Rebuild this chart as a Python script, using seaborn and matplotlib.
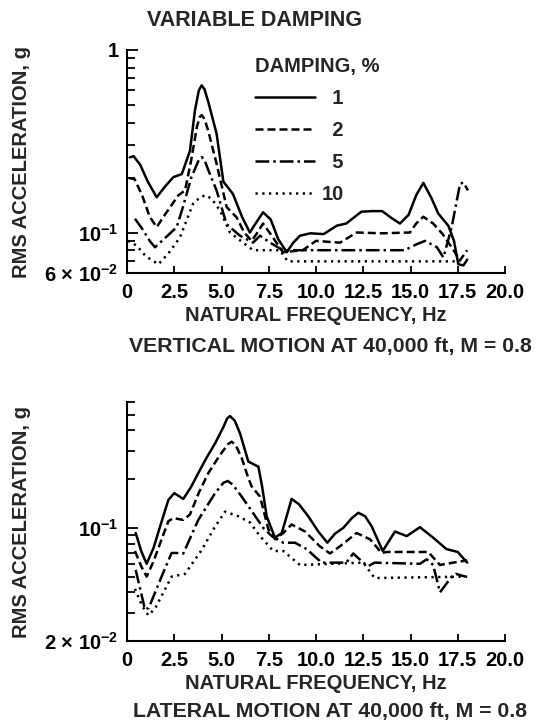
import numpy as np
import pandas as pd
import matplotlib
matplotlib.use('Agg')
import matplotlib.pyplot as plt
from matplotlib.lines import Line2D
from matplotlib.ticker import FixedLocator, NullFormatter
import seaborn as sns

# damping levels, %
damping = ['1', '2', '5', '10']

# vertical motion at 40,000 ft (top chart), frequency in Hz, rms acceleration in g
vert_f_1 = [0.15, 0.35, 0.7, 1.1, 1.57, 2.0, 2.45, 2.9, 3.33, 3.6, 3.8, 3.95, 4.1, 4.3, 4.74, 5.1,
            5.6, 6.1, 6.5, 6.8, 7.2, 7.6, 8.0, 8.45, 8.8, 9.15, 9.7, 10.4, 11.1, 11.6, 12.4, 13.0,
            13.5, 14.0, 14.44, 14.9, 15.3, 15.68, 16.1, 16.47, 17.0, 17.3, 17.53, 17.8, 18.0]
vert_g_1 = [0.258, 0.262, 0.235, 0.19, 0.156, 0.178, 0.201, 0.209, 0.28, 0.47, 0.6, 0.64, 0.61,
            0.52, 0.348, 0.19, 0.163, 0.121, 0.100, 0.112, 0.129, 0.118, 0.092, 0.078, 0.088, 0.096,
            0.099, 0.098, 0.109, 0.112, 0.130, 0.131, 0.131, 0.12, 0.112, 0.125, 0.16, 0.187, 0.155,
            0.127, 0.109, 0.09, 0.067, 0.066, 0.071]
vert_f_2 = [0.1, 0.4, 0.8, 1.2, 1.57, 2.0, 2.72, 3.07, 3.4, 3.7, 3.85, 3.95, 4.1, 4.3, 4.74, 5.27,
            5.8, 6.2, 6.6, 6.9, 7.2, 7.6, 8.25, 9.3, 10.0, 10.6, 11.27, 12.15, 13.5, 14.97, 15.3,
            15.68, 16.2, 16.7, 17.35, 17.6, 18.0]
vert_g_2 = [0.199, 0.196, 0.16, 0.122, 0.107, 0.125, 0.160, 0.170, 0.25, 0.38, 0.43, 0.44, 0.42,
            0.36, 0.238, 0.138, 0.121, 0.10, 0.090, 0.100, 0.112, 0.098, 0.078, 0.080, 0.090, 0.089,
            0.088, 0.100, 0.099, 0.100, 0.112, 0.122, 0.112, 0.098, 0.078, 0.070, 0.080]
vert_f_5 = [0.42, 0.8, 1.2, 1.48, 2.0, 2.63, 2.96, 3.4, 3.8, 3.95, 4.1, 4.3, 4.74, 5.27, 5.98, 6.67,
            7.04, 7.57, 8.25, 14.7, 15.3, 15.77, 16.4, 16.74, 17.18, 17.62, 17.8, 18.04]
vert_g_5 = [0.119, 0.105, 0.09, 0.083, 0.093, 0.107, 0.138, 0.20, 0.25, 0.259, 0.25, 0.22, 0.170,
            0.111, 0.096, 0.088, 0.096, 0.088, 0.080, 0.080, 0.086, 0.090, 0.083, 0.073, 0.107,
            0.185, 0.188, 0.170]
vert_f_10 = [0.05, 0.5, 1.0, 1.66, 2.2, 2.8, 3.5, 3.9, 4.2, 4.5, 4.92, 5.45, 6.14, 6.67, 8.1, 8.5,
             17.5]
vert_g_10 = [0.090, 0.085, 0.074, 0.067, 0.077, 0.094, 0.144, 0.157, 0.160, 0.152, 0.132, 0.100,
             0.088, 0.080, 0.080, 0.0695, 0.0695]

# lateral motion at 40,000 ft (bottom chart)
lat_f_1 = [0.46, 0.75, 1.04, 1.4, 1.75, 2.19, 2.5, 2.98, 3.4, 3.77, 4.2, 4.66, 5.1, 5.3, 5.45, 5.7,
           5.98, 6.42, 6.95, 7.15, 7.39, 7.83, 8.19, 8.71, 9.1, 9.59, 10.12, 10.6, 11.0, 11.44, 11.9,
           12.24, 12.6, 12.95, 13.53, 14.18, 14.8, 15.5, 16.2, 16.9, 17.5, 18.0]
lat_g_1 = [0.093, 0.072, 0.060, 0.075, 0.102, 0.149, 0.164, 0.151, 0.18, 0.218, 0.27, 0.333, 0.42,
           0.475, 0.491, 0.46, 0.384, 0.257, 0.239, 0.18, 0.118, 0.087, 0.093, 0.151, 0.14, 0.118,
           0.095, 0.081, 0.092, 0.100, 0.115, 0.124, 0.118, 0.102, 0.072, 0.095, 0.089, 0.101,
           0.087, 0.074, 0.071, 0.061]
lat_f_2 = [0.42, 0.75, 1.04, 1.4, 1.83, 2.19, 2.45, 2.98, 3.33, 3.8, 4.3, 4.9, 5.35, 5.54, 5.75,
           6.07, 6.42, 6.6, 7.04, 7.48, 7.83, 8.27, 8.71, 9.42, 10.2, 10.74, 11.27, 12.15, 12.86,
           13.47, 13.74, 15.94, 16.56, 17.26, 18.0]
lat_g_2 = [0.072, 0.058, 0.050, 0.062, 0.085, 0.110, 0.115, 0.112, 0.121, 0.165, 0.218, 0.28, 0.33,
           0.341, 0.325, 0.27, 0.203, 0.18, 0.156, 0.098, 0.085, 0.093, 0.105, 0.095, 0.077, 0.0695,
           0.077, 0.093, 0.085, 0.070, 0.071, 0.071, 0.059, 0.061, 0.063]
lat_f_5 = [0.46, 0.95, 1.15, 1.83, 2.36, 2.6, 2.98, 3.77, 4.66, 5.1, 5.33, 5.6, 6.07, 6.6, 7.21,
           7.66, 8.27, 8.89, 9.5, 10.3, 11.6, 11.97, 12.5, 12.77, 13.1, 15.5, 15.86, 16.2, 16.56,
           17.18, 17.4, 17.9]
lat_g_5 = [0.055, 0.0314, 0.032, 0.050, 0.070, 0.070, 0.0695, 0.112, 0.164, 0.19, 0.195, 0.185,
           0.156, 0.127, 0.100, 0.089, 0.081, 0.081, 0.074, 0.061, 0.061, 0.0695, 0.061, 0.058,
           0.061, 0.060, 0.064, 0.059, 0.040, 0.050, 0.052, 0.050]
lat_f_10 = [0.42, 0.8, 1.13, 1.5, 1.83, 2.36, 3.07, 3.95, 4.66, 5.19, 5.89, 6.51, 7.0, 7.74, 8.27,
            9.15, 12.5, 13.1, 18.0]
lat_g_10 = [0.042, 0.033, 0.0288, 0.032, 0.038, 0.050, 0.052, 0.073, 0.102, 0.126, 0.118, 0.108,
            0.090, 0.072, 0.072, 0.059, 0.061, 0.049, 0.050]

x_ticks = [0, 2.5, 5.0, 7.5, 10.0, 12.5, 15.0, 17.5, 20.0]
x_ticklabels = ['0', '2.5', '5.0', '7.5', '10.0', '12.5', '15.0', '17.5', '20.0']


def to_long(curves):
    parts = []
    for d, (f, g) in zip(damping, curves):
        parts.append(pd.DataFrame({'freq': f, 'rms': g, 'damping': d}))
    return pd.concat(parts, ignore_index=True)


vert = to_long([(vert_f_1, vert_g_1), (vert_f_2, vert_g_2), (vert_f_5, vert_g_5), (vert_f_10, vert_g_10)])
lat = to_long([(lat_f_1, lat_g_1), (lat_f_2, lat_g_2), (lat_f_5, lat_g_5), (lat_f_10, lat_g_10)])

sns.set_style('ticks')
plt.rcParams['font.family'] = ['Liberation Sans', 'DejaVu Sans']
plt.rcParams['font.weight'] = 'bold'
plt.rcParams['mathtext.fontset'] = 'custom'
plt.rcParams['mathtext.rm'] = 'Liberation Sans:bold'
plt.rcParams['mathtext.bf'] = 'Liberation Sans:bold'
plt.rcParams['mathtext.it'] = 'Liberation Sans:bold'

LW = 1.8
FS = 14.5
dash_map = {'1': '', '2': (3.2, 1.6), '5': (5.5, 1.6, 1.0, 1.6), '10': (0.9, 1.8)}

W, H = 543, 726
fig = plt.figure(figsize=(W / 100, H / 100), dpi=100)
ax1 = fig.add_axes([127 / W, 1 - 273 / H, 378 / W, 223 / H])
ax2 = fig.add_axes([127 / W, 1 - 641 / H, 378 / W, 239 / H])

for ax, df in [(ax1, vert), (ax2, lat)]:
    ax.set_yscale('log')
    sns.lineplot(data=df, x='freq', y='rms', style='damping', style_order=damping,
                 dashes=dash_map, color='black', lw=LW, estimator=None, sort=False,
                 legend=False, ax=ax)
    ax.set_xlim(0, 20)
    ax.set_xticks(x_ticks)
    ax.set_xticklabels(x_ticklabels)
    ax.yaxis.set_minor_formatter(NullFormatter())
    sns.despine(ax=ax)
    for s in ['left', 'bottom']:
        ax.spines[s].set_linewidth(1.5)
        ax.spines[s].set_color('black')
    ax.tick_params(axis='both', which='both', direction='in', colors='black', width=1.3,
                   labelsize=FS)
    ax.tick_params(axis='y', which='major', length=8, pad=6)
    ax.tick_params(axis='y', which='minor', length=6)
    ax.tick_params(axis='x', which='major', length=5, pad=7)
    ax.set_xlabel('NATURAL FREQUENCY, Hz', fontsize=FS, fontweight='bold', labelpad=3)
    ax.set_ylabel('RMS ACCELERATION, g', fontsize=FS, fontweight='bold')
    ax.yaxis.set_label_coords(-0.255, 0.5)

ax1.set_ylim(0.06, 1)
ax1.yaxis.set_major_locator(FixedLocator([0.06, 0.1, 1]))
ax1.set_yticklabels(['6 \u00d7 ' + r'$\mathbf{10^{-2}}$', r'$\mathbf{10^{-1}}$', '1'])
ax1.yaxis.set_minor_locator(FixedLocator([0.07, 0.08, 0.09, 0.2, 0.3, 0.4, 0.5, 0.6, 0.7, 0.8, 0.9]))

ax2.set_ylim(0.02, 0.6)
ax2.yaxis.set_major_locator(FixedLocator([0.02, 0.1]))
ax2.set_yticklabels(['2 \u00d7 ' + r'$\mathbf{10^{-2}}$', r'$\mathbf{10^{-1}}$'])
ax2.yaxis.set_minor_locator(FixedLocator([0.03, 0.04, 0.05, 0.06, 0.07, 0.08, 0.09, 0.2, 0.3, 0.4, 0.5, 0.6]))

handles = [Line2D([], [], color='black', lw=LW, linestyle='-')]
for d in damping[1:]:
    handles.append(Line2D([], [], color='black', lw=LW, dashes=dash_map[d]))
labels = ['\u20071', '\u20072', '\u20075', '10']
leg = ax1.legend(handles, labels, title='DAMPING, %', loc='upper left',
                 bbox_to_anchor=(255 / W, 1 - 57 / H), bbox_transform=fig.transFigure,
                 frameon=False, borderpad=0, borderaxespad=0, handlelength=3.0,
                 handletextpad=0.3, labelspacing=0.65, fontsize=FS, title_fontsize=FS,
                 alignment='left')
for t in leg.get_texts():
    t.set_fontweight('bold')
leg.get_title().set_fontweight('bold')

fig.text(255 / W, 1 - 20 / H, 'VARIABLE DAMPING', ha='center', va='center',
         fontsize=15.5, fontweight='bold')
fig.text(330 / W, 1 - 346 / H, 'VERTICAL MOTION AT 40,000 ft, M = 0.8', ha='center',
         va='center', fontsize=15.3, fontweight='bold')
fig.text(330 / W, 1 - 712 / H, 'LATERAL MOTION AT 40,000 ft, M = 0.8', ha='center',
         va='center', fontsize=15.3, fontweight='bold')

fig.savefig('out.png', dpi=100)
